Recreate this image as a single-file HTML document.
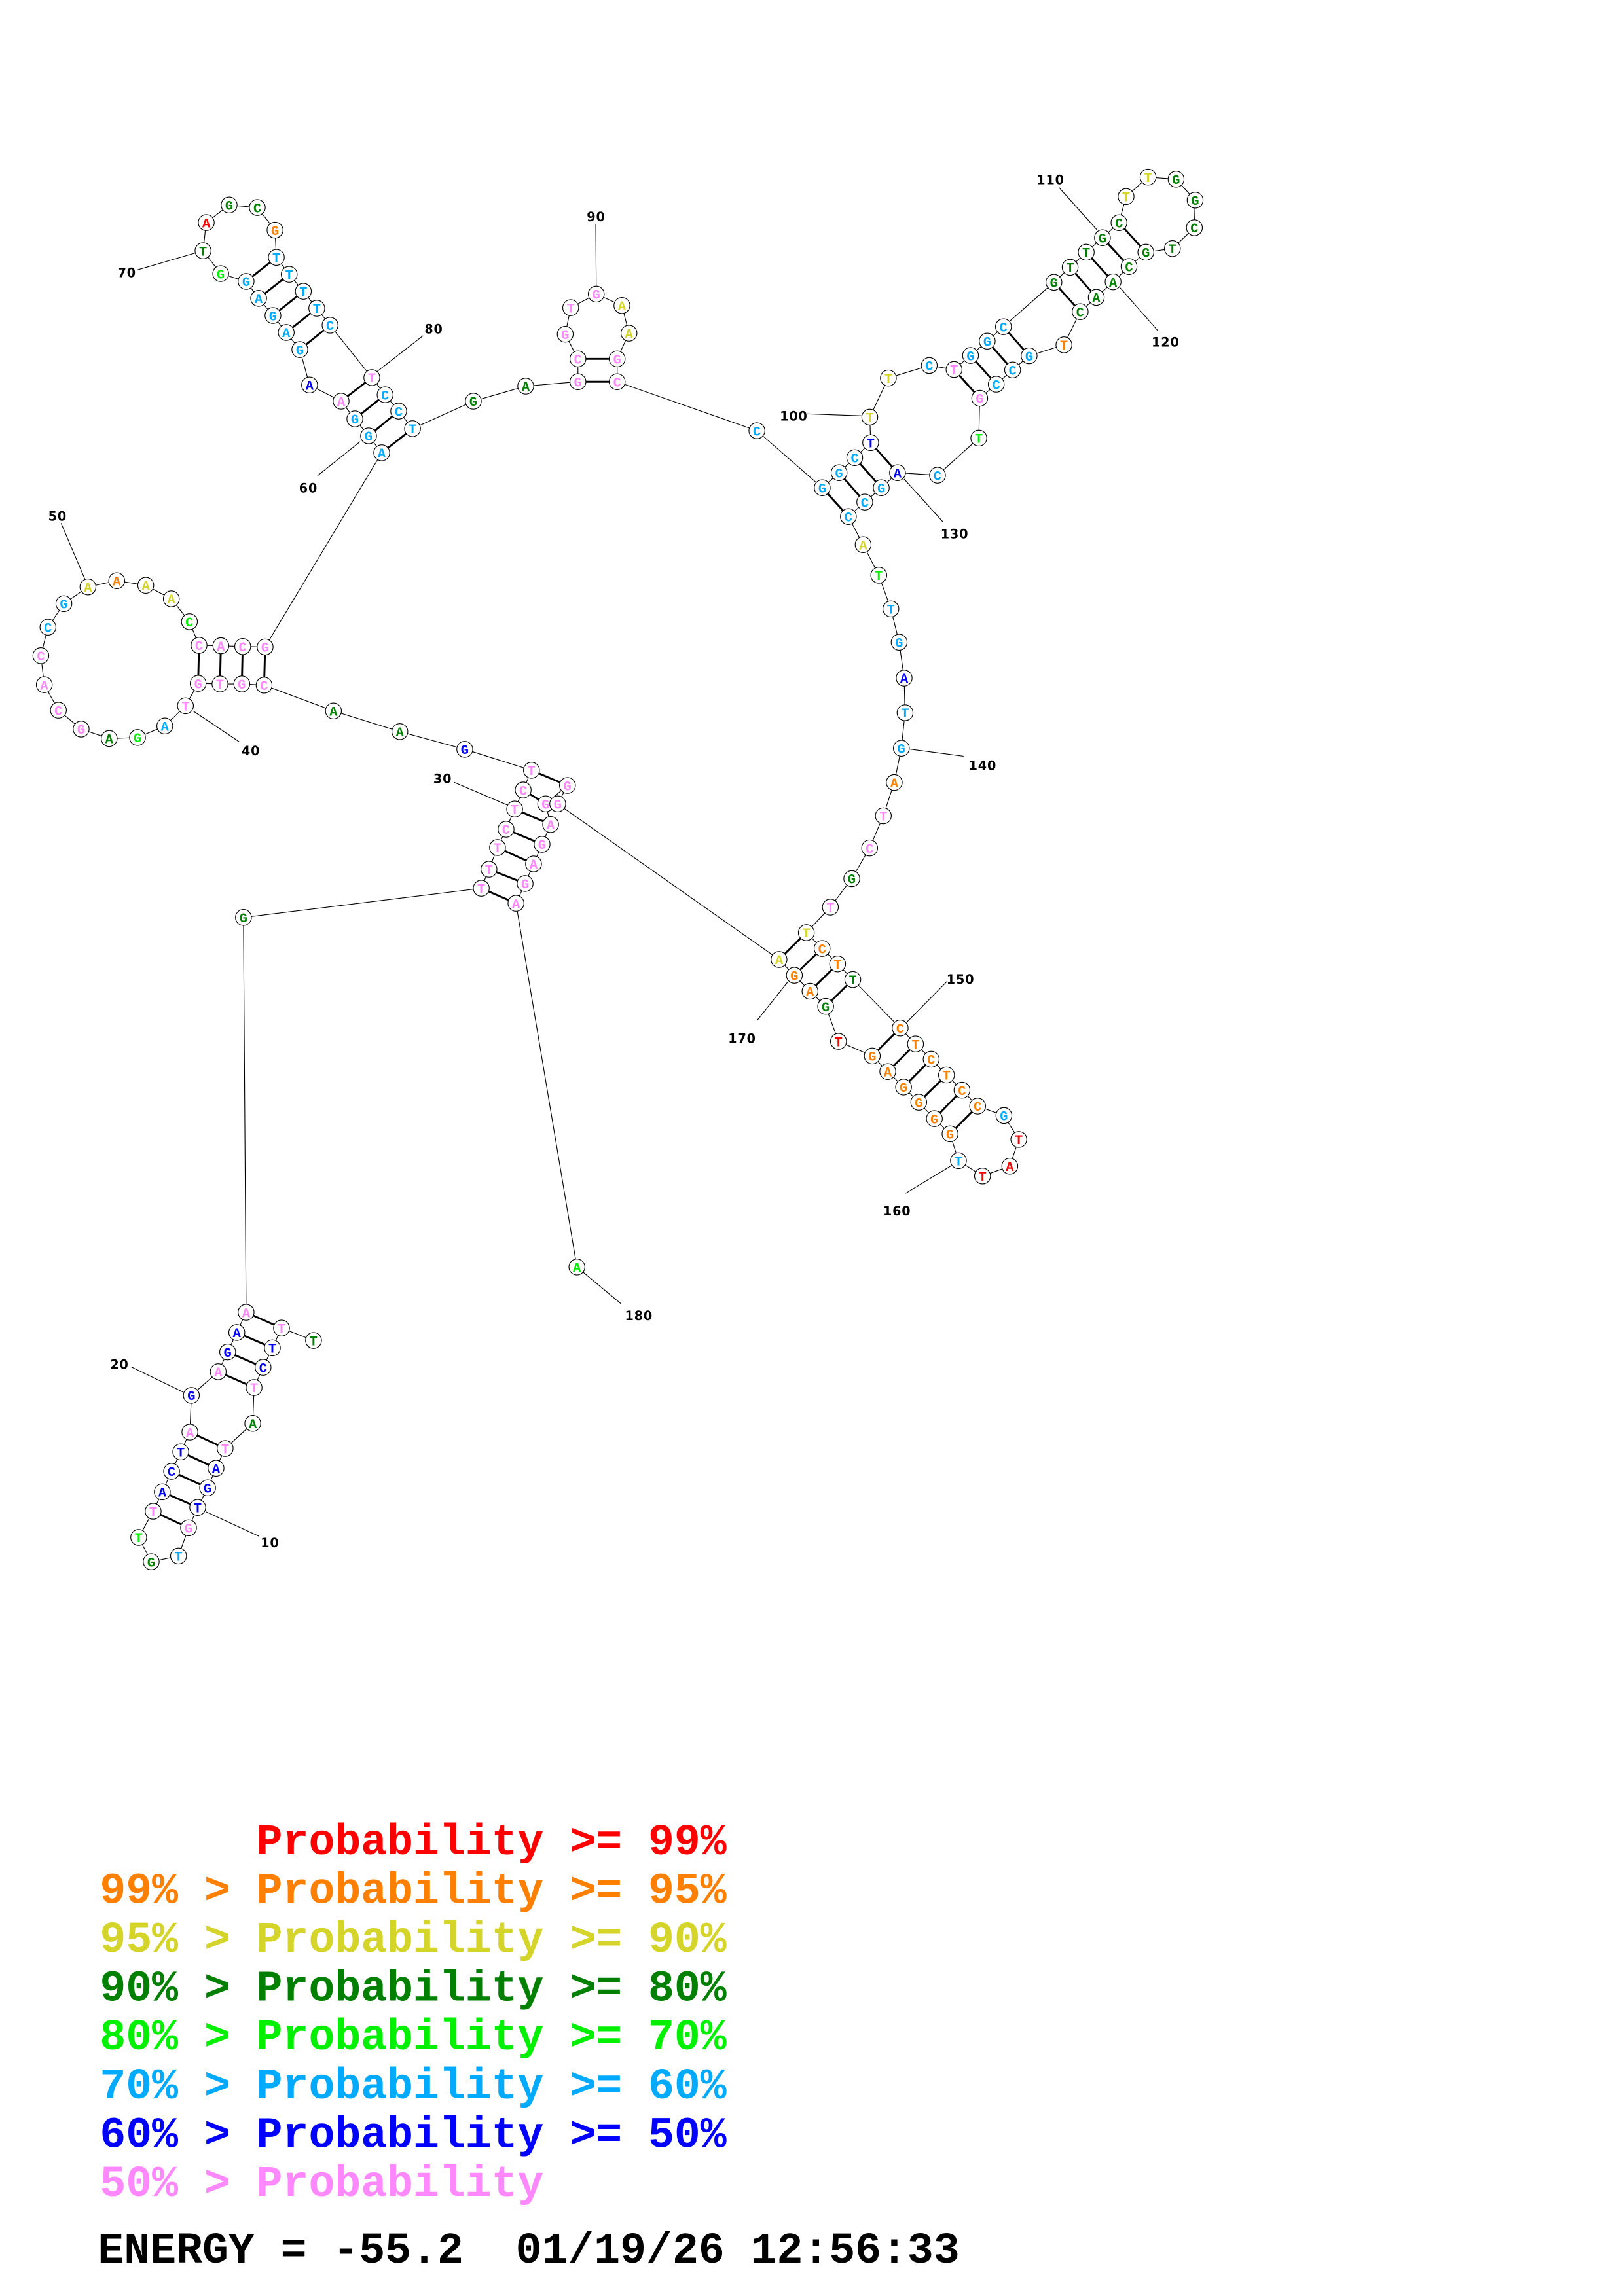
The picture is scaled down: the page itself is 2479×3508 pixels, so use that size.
<!DOCTYPE html>
<html><head><meta charset="utf-8">
<style>
html,body{margin:0;padding:0;background:#fff;}
svg{display:block;}
.bb{fill:none;stroke:#000;stroke-width:0.5;}
.bp{stroke:#000;stroke-width:1.3;}
.ln{stroke:#000;stroke-width:0.5;}
circle{fill:#fff;stroke:#000;stroke-width:0.5;}
text.n{font-family:"Liberation Mono",monospace;font-weight:bold;font-size:9px;text-anchor:middle;}
text.l{font-family:"DejaVu Sans","Liberation Sans",sans-serif;font-weight:bold;font-size:8.5px;text-anchor:middle;fill:#000;letter-spacing:0.4px;}
text.g{font-family:"Liberation Mono",monospace;font-weight:bold;font-size:29.5px;white-space:pre;}
.rd{fill:#ff0000}.or{fill:#ff8000}.ye{fill:#d4d42a}.dg{fill:#008000}.gr{fill:#00f000}.lb{fill:#00aaff}.bl{fill:#0000ff}.pk{fill:#ff88ff}
</style></head><body>
<svg width="2479" height="3508" viewBox="0 0 1100 1556.6" xmlns="http://www.w3.org/2000/svg" xml:space="preserve">
<rect width="1100" height="1556.6" fill="#fff"/>
<line class="ln" x1="139.8" y1="1025" x2="175.3" y2="1041.4"/>
<line class="ln" x1="88.7" y1="926.6" x2="124.2" y2="943.8"/>
<line class="ln" x1="307.6" y1="530.3" x2="343.9" y2="545.8"/>
<line class="ln" x1="130.9" y1="482" x2="162" y2="502.8"/>
<line class="ln" x1="41.4" y1="354.7" x2="57.4" y2="392.3"/>
<line class="ln" x1="244" y1="299.5" x2="215.2" y2="322.5"/>
<line class="ln" x1="137.6" y1="170" x2="93" y2="183"/>
<line class="ln" x1="286.7" y1="227.6" x2="252.5" y2="254.3"/>
<line class="ln" x1="403.8" y1="152" x2="404.1" y2="193.8"/>
<line class="ln" x1="547" y1="280.6" x2="584.3" y2="281.9"/>
<line class="ln" x1="717.8" y1="127.2" x2="743.7" y2="156.1"/>
<line class="ln" x1="759.2" y1="195.2" x2="785" y2="224.5"/>
<line class="ln" x1="612.7" y1="324.7" x2="638.9" y2="353.6"/>
<line class="ln" x1="616.8" y1="507.9" x2="653" y2="512.7"/>
<line class="ln" x1="642" y1="665.2" x2="614.6" y2="693"/>
<line class="ln" x1="644.2" y1="790.6" x2="613.8" y2="809"/>
<line class="ln" x1="534" y1="665.6" x2="513" y2="692"/>
<line class="ln" x1="391" y1="859" x2="421" y2="884"/>
<polyline class="bb" points="212.5,908.8 190.8,900.4 184.6,913.8 178.3,927 172.2,940.7 171.3,965 152.6,982 146.4,995.4 140.7,1008.7 134,1022 127.8,1035.8 121,1054.9 102.5,1058.8 94,1042.3 103.8,1024.6 110,1011.4 116.3,997.5 122.5,984.3 128.7,970.9 129.7,946 147.9,930 154.3,916.6 160.5,903.4 166.8,889.7 165,622 326.2,602.2 331.4,589.3 337.2,574.6 343,562.2 348.8,548.5 354.6,535.6 360.2,522.2 315,508 271,496 226,482 179,464.5 163.9,463.7 149.1,463.7 134.3,463.3 125.7,478.5 111.7,492.2 93.2,500 74,500.7 55,494.3 39.6,481.5 30,464.2 27.7,444.5 32.5,425.2 43.3,409.3 59.6,397.9 79.1,393.7 98.8,396.8 116.1,406 128.4,421.5 134.9,437.5 149.7,437.8 164.5,438.3 179.7,438.6 258.7,307 249.8,295.5 240.5,284 231.2,272 209.8,261 203.2,237 194,225.4 185,213.9 175.3,202.3 166.8,190.8 149.6,185.5 137.6,170 139.8,150.9 155.3,139 174.4,140.7 186.4,156 187.3,174.5 196,186 205.6,197.5 214.7,209 223.7,220.5 252,256 261,267.6 270.2,278.7 279.6,290.6 320.8,272 356.3,261.8 391.7,258.8 391.7,243.3 383.1,226.6 386.8,208.6 404.1,199.4 421.5,207.1 426.3,225.9 418.3,243.3 418.3,258.8 513,292 557.3,330.7 568.7,320.5 579.3,310.3 590.1,300.1 589.5,282.8 602.1,256.3 629.8,247.8 646.6,250.5 657.8,241 669.1,231.3 680.1,221.5 714.3,191.4 725.3,181.2 736.2,171 747.2,161.2 758.4,151 763.2,133.3 778.1,120.1 797.1,121.5 810,135.7 809.5,154.4 794.6,168.5 776.6,171 765.2,180.7 754.4,191.1 743,201.6 732.1,211.3 721.1,233.8 697.5,241.2 686.3,250.8 675.2,260.5 664,270 663.4,297 635.4,322.2 608.3,320.5 597.3,330.7 586.1,340.4 575,350.2 585,369.3 595.6,390 603.8,412.8 609.4,435.4 612.8,459.7 613.4,483.2 610.9,507.3 606.1,530.5 598.7,553.1 589.4,574.9 577.3,595.7 562.8,615 546.5,632.3 557.2,643 567.7,653.5 578,664.1 610.1,697 620.5,707.8 631.1,718.1 641.5,728.8 652,739.1 662.6,749.9 680.4,756.3 690.5,772.5 684.4,790.6 665.9,797.3 649.6,786.9 643.9,768.7 633.3,758.4 622.7,747.3 612.4,737 601.7,726.5 591.2,715.9 568.3,706 559.6,682.3 549,672 538.4,661.2 528,650.5 378,545 384.6,532.5 369.8,545 373.2,559 367.4,572.4 361.6,585.7 355.9,599 349.7,612.4 391,859"/>
<g class="bp">
<line x1="190.8" y1="900.4" x2="166.8" y2="889.7"/>
<line x1="184.6" y1="913.8" x2="160.5" y2="903.4"/>
<line x1="178.3" y1="927" x2="154.3" y2="916.6"/>
<line x1="172.2" y1="940.7" x2="147.9" y2="930"/>
<line x1="152.6" y1="982" x2="128.7" y2="970.9"/>
<line x1="146.4" y1="995.4" x2="122.5" y2="984.3"/>
<line x1="140.7" y1="1008.7" x2="116.3" y2="997.5"/>
<line x1="134" y1="1022" x2="110" y2="1011.4"/>
<line x1="127.8" y1="1035.8" x2="103.8" y2="1024.6"/>
<line x1="326.2" y1="602.2" x2="349.7" y2="612.4"/>
<line x1="331.4" y1="589.3" x2="355.9" y2="599"/>
<line x1="337.2" y1="574.6" x2="361.6" y2="585.7"/>
<line x1="343" y1="562.2" x2="367.4" y2="572.4"/>
<line x1="348.8" y1="548.5" x2="373.2" y2="559"/>
<line x1="354.6" y1="535.6" x2="369.8" y2="545"/>
<line x1="360.2" y1="522.2" x2="384.6" y2="532.5"/>
<line x1="179" y1="464.5" x2="179.7" y2="438.6"/>
<line x1="163.9" y1="463.7" x2="164.5" y2="438.3"/>
<line x1="149.1" y1="463.7" x2="149.7" y2="437.8"/>
<line x1="134.3" y1="463.3" x2="134.9" y2="437.5"/>
<line x1="258.7" y1="307" x2="279.6" y2="290.6"/>
<line x1="249.8" y1="295.5" x2="270.2" y2="278.7"/>
<line x1="240.5" y1="284" x2="261" y2="267.6"/>
<line x1="231.2" y1="272" x2="252" y2="256"/>
<line x1="203.2" y1="237" x2="223.7" y2="220.5"/>
<line x1="194" y1="225.4" x2="214.7" y2="209"/>
<line x1="185" y1="213.9" x2="205.6" y2="197.5"/>
<line x1="175.3" y1="202.3" x2="196" y2="186"/>
<line x1="166.8" y1="190.8" x2="187.3" y2="174.5"/>
<line x1="391.7" y1="258.8" x2="418.3" y2="258.8"/>
<line x1="391.7" y1="243.3" x2="418.3" y2="243.3"/>
<line x1="557.3" y1="330.7" x2="575" y2="350.2"/>
<line x1="568.7" y1="320.5" x2="586.1" y2="340.4"/>
<line x1="579.3" y1="310.3" x2="597.3" y2="330.7"/>
<line x1="590.1" y1="300.1" x2="608.3" y2="320.5"/>
<line x1="646.6" y1="250.5" x2="664" y2="270"/>
<line x1="657.8" y1="241" x2="675.2" y2="260.5"/>
<line x1="669.1" y1="231.3" x2="686.3" y2="250.8"/>
<line x1="680.1" y1="221.5" x2="697.5" y2="241.2"/>
<line x1="714.3" y1="191.4" x2="732.1" y2="211.3"/>
<line x1="725.3" y1="181.2" x2="743" y2="201.6"/>
<line x1="736.2" y1="171" x2="754.4" y2="191.1"/>
<line x1="747.2" y1="161.2" x2="765.2" y2="180.7"/>
<line x1="758.4" y1="151" x2="776.6" y2="171"/>
<line x1="546.5" y1="632.3" x2="528" y2="650.5"/>
<line x1="557.2" y1="643" x2="538.4" y2="661.2"/>
<line x1="567.7" y1="653.5" x2="549" y2="672"/>
<line x1="578" y1="664.1" x2="559.6" y2="682.3"/>
<line x1="610.1" y1="697" x2="591.2" y2="715.9"/>
<line x1="620.5" y1="707.8" x2="601.7" y2="726.5"/>
<line x1="631.1" y1="718.1" x2="612.4" y2="737"/>
<line x1="641.5" y1="728.8" x2="622.7" y2="747.3"/>
<line x1="652" y1="739.1" x2="633.3" y2="758.4"/>
<line x1="662.6" y1="749.9" x2="643.9" y2="768.7"/>
</g>
<g>
<circle cx="212.5" cy="908.8" r="5.4"/><text class="n dg" x="212.5" y="912">T</text>
<circle cx="190.8" cy="900.4" r="5.4"/><text class="n pk" x="190.8" y="903.6">T</text>
<circle cx="184.6" cy="913.8" r="5.4"/><text class="n bl" x="184.6" y="917">T</text>
<circle cx="178.3" cy="927" r="5.4"/><text class="n bl" x="178.3" y="930.2">C</text>
<circle cx="172.2" cy="940.7" r="5.4"/><text class="n pk" x="172.2" y="943.9">T</text>
<circle cx="171.3" cy="965" r="5.4"/><text class="n dg" x="171.3" y="968.2">A</text>
<circle cx="152.6" cy="982" r="5.4"/><text class="n pk" x="152.6" y="985.2">T</text>
<circle cx="146.4" cy="995.4" r="5.4"/><text class="n bl" x="146.4" y="998.6">A</text>
<circle cx="140.7" cy="1008.7" r="5.4"/><text class="n bl" x="140.7" y="1011.9">G</text>
<circle cx="134" cy="1022" r="5.4"/><text class="n bl" x="134" y="1025.2">T</text>
<circle cx="127.8" cy="1035.8" r="5.4"/><text class="n pk" x="127.8" y="1039">G</text>
<circle cx="121" cy="1054.9" r="5.4"/><text class="n lb" x="121" y="1058.1">T</text>
<circle cx="102.5" cy="1058.8" r="5.4"/><text class="n dg" x="102.5" y="1062">G</text>
<circle cx="94" cy="1042.3" r="5.4"/><text class="n gr" x="94" y="1045.5">T</text>
<circle cx="103.8" cy="1024.6" r="5.4"/><text class="n pk" x="103.8" y="1027.8">T</text>
<circle cx="110" cy="1011.4" r="5.4"/><text class="n bl" x="110" y="1014.6">A</text>
<circle cx="116.3" cy="997.5" r="5.4"/><text class="n bl" x="116.3" y="1000.7">C</text>
<circle cx="122.5" cy="984.3" r="5.4"/><text class="n bl" x="122.5" y="987.5">T</text>
<circle cx="128.7" cy="970.9" r="5.4"/><text class="n pk" x="128.7" y="974.1">A</text>
<circle cx="129.7" cy="946" r="5.4"/><text class="n bl" x="129.7" y="949.2">G</text>
<circle cx="147.9" cy="930" r="5.4"/><text class="n pk" x="147.9" y="933.2">A</text>
<circle cx="154.3" cy="916.6" r="5.4"/><text class="n bl" x="154.3" y="919.8">G</text>
<circle cx="160.5" cy="903.4" r="5.4"/><text class="n bl" x="160.5" y="906.6">A</text>
<circle cx="166.8" cy="889.7" r="5.4"/><text class="n pk" x="166.8" y="892.9">A</text>
<circle cx="165" cy="622" r="5.4"/><text class="n dg" x="165" y="625.2">G</text>
<circle cx="326.2" cy="602.2" r="5.4"/><text class="n pk" x="326.2" y="605.4">T</text>
<circle cx="331.4" cy="589.3" r="5.4"/><text class="n pk" x="331.4" y="592.5">T</text>
<circle cx="337.2" cy="574.6" r="5.4"/><text class="n pk" x="337.2" y="577.8">T</text>
<circle cx="343" cy="562.2" r="5.4"/><text class="n pk" x="343" y="565.4">C</text>
<circle cx="348.8" cy="548.5" r="5.4"/><text class="n pk" x="348.8" y="551.7">T</text>
<circle cx="354.6" cy="535.6" r="5.4"/><text class="n pk" x="354.6" y="538.8">C</text>
<circle cx="360.2" cy="522.2" r="5.4"/><text class="n pk" x="360.2" y="525.4">T</text>
<circle cx="315" cy="508" r="5.4"/><text class="n bl" x="315" y="511.2">G</text>
<circle cx="271" cy="496" r="5.4"/><text class="n dg" x="271" y="499.2">A</text>
<circle cx="226" cy="482" r="5.4"/><text class="n dg" x="226" y="485.2">A</text>
<circle cx="179" cy="464.5" r="5.4"/><text class="n pk" x="179" y="467.7">C</text>
<circle cx="163.9" cy="463.7" r="5.4"/><text class="n pk" x="163.9" y="466.9">G</text>
<circle cx="149.1" cy="463.7" r="5.4"/><text class="n pk" x="149.1" y="466.9">T</text>
<circle cx="134.3" cy="463.3" r="5.4"/><text class="n pk" x="134.3" y="466.5">G</text>
<circle cx="125.7" cy="478.5" r="5.4"/><text class="n pk" x="125.7" y="481.7">T</text>
<circle cx="111.7" cy="492.2" r="5.4"/><text class="n lb" x="111.7" y="495.4">A</text>
<circle cx="93.2" cy="500" r="5.4"/><text class="n gr" x="93.2" y="503.2">G</text>
<circle cx="74" cy="500.7" r="5.4"/><text class="n dg" x="74" y="503.9">A</text>
<circle cx="55" cy="494.3" r="5.4"/><text class="n pk" x="55" y="497.5">G</text>
<circle cx="39.6" cy="481.5" r="5.4"/><text class="n pk" x="39.6" y="484.7">C</text>
<circle cx="30" cy="464.2" r="5.4"/><text class="n pk" x="30" y="467.4">A</text>
<circle cx="27.7" cy="444.5" r="5.4"/><text class="n pk" x="27.7" y="447.7">C</text>
<circle cx="32.5" cy="425.2" r="5.4"/><text class="n lb" x="32.5" y="428.4">C</text>
<circle cx="43.3" cy="409.3" r="5.4"/><text class="n lb" x="43.3" y="412.5">G</text>
<circle cx="59.6" cy="397.9" r="5.4"/><text class="n ye" x="59.6" y="401.1">A</text>
<circle cx="79.1" cy="393.7" r="5.4"/><text class="n or" x="79.1" y="396.9">A</text>
<circle cx="98.8" cy="396.8" r="5.4"/><text class="n ye" x="98.8" y="400">A</text>
<circle cx="116.1" cy="406" r="5.4"/><text class="n ye" x="116.1" y="409.2">A</text>
<circle cx="128.4" cy="421.5" r="5.4"/><text class="n gr" x="128.4" y="424.7">C</text>
<circle cx="134.9" cy="437.5" r="5.4"/><text class="n pk" x="134.9" y="440.7">C</text>
<circle cx="149.7" cy="437.8" r="5.4"/><text class="n pk" x="149.7" y="441">A</text>
<circle cx="164.5" cy="438.3" r="5.4"/><text class="n pk" x="164.5" y="441.5">C</text>
<circle cx="179.7" cy="438.6" r="5.4"/><text class="n pk" x="179.7" y="441.8">G</text>
<circle cx="258.7" cy="307" r="5.4"/><text class="n lb" x="258.7" y="310.2">A</text>
<circle cx="249.8" cy="295.5" r="5.4"/><text class="n lb" x="249.8" y="298.7">G</text>
<circle cx="240.5" cy="284" r="5.4"/><text class="n lb" x="240.5" y="287.2">G</text>
<circle cx="231.2" cy="272" r="5.4"/><text class="n pk" x="231.2" y="275.2">A</text>
<circle cx="209.8" cy="261" r="5.4"/><text class="n bl" x="209.8" y="264.2">A</text>
<circle cx="203.2" cy="237" r="5.4"/><text class="n lb" x="203.2" y="240.2">G</text>
<circle cx="194" cy="225.4" r="5.4"/><text class="n lb" x="194" y="228.6">A</text>
<circle cx="185" cy="213.9" r="5.4"/><text class="n lb" x="185" y="217.1">G</text>
<circle cx="175.3" cy="202.3" r="5.4"/><text class="n lb" x="175.3" y="205.5">A</text>
<circle cx="166.8" cy="190.8" r="5.4"/><text class="n lb" x="166.8" y="194">G</text>
<circle cx="149.6" cy="185.5" r="5.4"/><text class="n gr" x="149.6" y="188.7">G</text>
<circle cx="137.6" cy="170" r="5.4"/><text class="n dg" x="137.6" y="173.2">T</text>
<circle cx="139.8" cy="150.9" r="5.4"/><text class="n rd" x="139.8" y="154.1">A</text>
<circle cx="155.3" cy="139" r="5.4"/><text class="n dg" x="155.3" y="142.2">G</text>
<circle cx="174.4" cy="140.7" r="5.4"/><text class="n dg" x="174.4" y="143.9">C</text>
<circle cx="186.4" cy="156" r="5.4"/><text class="n or" x="186.4" y="159.2">G</text>
<circle cx="187.3" cy="174.5" r="5.4"/><text class="n lb" x="187.3" y="177.7">T</text>
<circle cx="196" cy="186" r="5.4"/><text class="n lb" x="196" y="189.2">T</text>
<circle cx="205.6" cy="197.5" r="5.4"/><text class="n lb" x="205.6" y="200.7">T</text>
<circle cx="214.7" cy="209" r="5.4"/><text class="n lb" x="214.7" y="212.2">T</text>
<circle cx="223.7" cy="220.5" r="5.4"/><text class="n lb" x="223.7" y="223.7">C</text>
<circle cx="252" cy="256" r="5.4"/><text class="n pk" x="252" y="259.2">T</text>
<circle cx="261" cy="267.6" r="5.4"/><text class="n lb" x="261" y="270.8">C</text>
<circle cx="270.2" cy="278.7" r="5.4"/><text class="n lb" x="270.2" y="281.9">C</text>
<circle cx="279.6" cy="290.6" r="5.4"/><text class="n lb" x="279.6" y="293.8">T</text>
<circle cx="320.8" cy="272" r="5.4"/><text class="n dg" x="320.8" y="275.2">G</text>
<circle cx="356.3" cy="261.8" r="5.4"/><text class="n dg" x="356.3" y="265">A</text>
<circle cx="391.7" cy="258.8" r="5.4"/><text class="n pk" x="391.7" y="262">G</text>
<circle cx="391.7" cy="243.3" r="5.4"/><text class="n pk" x="391.7" y="246.5">C</text>
<circle cx="383.1" cy="226.6" r="5.4"/><text class="n pk" x="383.1" y="229.8">G</text>
<circle cx="386.8" cy="208.6" r="5.4"/><text class="n pk" x="386.8" y="211.8">T</text>
<circle cx="404.1" cy="199.4" r="5.4"/><text class="n pk" x="404.1" y="202.6">G</text>
<circle cx="421.5" cy="207.1" r="5.4"/><text class="n ye" x="421.5" y="210.3">A</text>
<circle cx="426.3" cy="225.9" r="5.4"/><text class="n ye" x="426.3" y="229.1">A</text>
<circle cx="418.3" cy="243.3" r="5.4"/><text class="n pk" x="418.3" y="246.5">G</text>
<circle cx="418.3" cy="258.8" r="5.4"/><text class="n pk" x="418.3" y="262">C</text>
<circle cx="513" cy="292" r="5.4"/><text class="n lb" x="513" y="295.2">C</text>
<circle cx="557.3" cy="330.7" r="5.4"/><text class="n lb" x="557.3" y="333.9">G</text>
<circle cx="568.7" cy="320.5" r="5.4"/><text class="n lb" x="568.7" y="323.7">G</text>
<circle cx="579.3" cy="310.3" r="5.4"/><text class="n lb" x="579.3" y="313.5">C</text>
<circle cx="590.1" cy="300.1" r="5.4"/><text class="n bl" x="590.1" y="303.3">T</text>
<circle cx="589.5" cy="282.8" r="5.4"/><text class="n ye" x="589.5" y="286">T</text>
<circle cx="602.1" cy="256.3" r="5.4"/><text class="n ye" x="602.1" y="259.5">T</text>
<circle cx="629.8" cy="247.8" r="5.4"/><text class="n lb" x="629.8" y="251">C</text>
<circle cx="646.6" cy="250.5" r="5.4"/><text class="n pk" x="646.6" y="253.7">T</text>
<circle cx="657.8" cy="241" r="5.4"/><text class="n lb" x="657.8" y="244.2">G</text>
<circle cx="669.1" cy="231.3" r="5.4"/><text class="n lb" x="669.1" y="234.5">G</text>
<circle cx="680.1" cy="221.5" r="5.4"/><text class="n lb" x="680.1" y="224.7">C</text>
<circle cx="714.3" cy="191.4" r="5.4"/><text class="n dg" x="714.3" y="194.6">G</text>
<circle cx="725.3" cy="181.2" r="5.4"/><text class="n dg" x="725.3" y="184.4">T</text>
<circle cx="736.2" cy="171" r="5.4"/><text class="n dg" x="736.2" y="174.2">T</text>
<circle cx="747.2" cy="161.2" r="5.4"/><text class="n dg" x="747.2" y="164.4">G</text>
<circle cx="758.4" cy="151" r="5.4"/><text class="n dg" x="758.4" y="154.2">C</text>
<circle cx="763.2" cy="133.3" r="5.4"/><text class="n ye" x="763.2" y="136.5">T</text>
<circle cx="778.1" cy="120.1" r="5.4"/><text class="n ye" x="778.1" y="123.3">T</text>
<circle cx="797.1" cy="121.5" r="5.4"/><text class="n dg" x="797.1" y="124.7">G</text>
<circle cx="810" cy="135.7" r="5.4"/><text class="n dg" x="810" y="138.9">G</text>
<circle cx="809.5" cy="154.4" r="5.4"/><text class="n dg" x="809.5" y="157.6">C</text>
<circle cx="794.6" cy="168.5" r="5.4"/><text class="n dg" x="794.6" y="171.7">T</text>
<circle cx="776.6" cy="171" r="5.4"/><text class="n dg" x="776.6" y="174.2">G</text>
<circle cx="765.2" cy="180.7" r="5.4"/><text class="n dg" x="765.2" y="183.9">C</text>
<circle cx="754.4" cy="191.1" r="5.4"/><text class="n dg" x="754.4" y="194.3">A</text>
<circle cx="743" cy="201.6" r="5.4"/><text class="n dg" x="743" y="204.8">A</text>
<circle cx="732.1" cy="211.3" r="5.4"/><text class="n dg" x="732.1" y="214.5">C</text>
<circle cx="721.1" cy="233.8" r="5.4"/><text class="n or" x="721.1" y="237">T</text>
<circle cx="697.5" cy="241.2" r="5.4"/><text class="n lb" x="697.5" y="244.4">G</text>
<circle cx="686.3" cy="250.8" r="5.4"/><text class="n lb" x="686.3" y="254">C</text>
<circle cx="675.2" cy="260.5" r="5.4"/><text class="n lb" x="675.2" y="263.7">C</text>
<circle cx="664" cy="270" r="5.4"/><text class="n pk" x="664" y="273.2">G</text>
<circle cx="663.4" cy="297" r="5.4"/><text class="n gr" x="663.4" y="300.2">T</text>
<circle cx="635.4" cy="322.2" r="5.4"/><text class="n lb" x="635.4" y="325.4">C</text>
<circle cx="608.3" cy="320.5" r="5.4"/><text class="n bl" x="608.3" y="323.7">A</text>
<circle cx="597.3" cy="330.7" r="5.4"/><text class="n lb" x="597.3" y="333.9">G</text>
<circle cx="586.1" cy="340.4" r="5.4"/><text class="n lb" x="586.1" y="343.6">C</text>
<circle cx="575" cy="350.2" r="5.4"/><text class="n lb" x="575" y="353.4">C</text>
<circle cx="585" cy="369.3" r="5.4"/><text class="n ye" x="585" y="372.5">A</text>
<circle cx="595.6" cy="390" r="5.4"/><text class="n gr" x="595.6" y="393.2">T</text>
<circle cx="603.8" cy="412.8" r="5.4"/><text class="n lb" x="603.8" y="416">T</text>
<circle cx="609.4" cy="435.4" r="5.4"/><text class="n lb" x="609.4" y="438.6">G</text>
<circle cx="612.8" cy="459.7" r="5.4"/><text class="n bl" x="612.8" y="462.9">A</text>
<circle cx="613.4" cy="483.2" r="5.4"/><text class="n lb" x="613.4" y="486.4">T</text>
<circle cx="610.9" cy="507.3" r="5.4"/><text class="n lb" x="610.9" y="510.5">G</text>
<circle cx="606.1" cy="530.5" r="5.4"/><text class="n or" x="606.1" y="533.7">A</text>
<circle cx="598.7" cy="553.1" r="5.4"/><text class="n pk" x="598.7" y="556.3">T</text>
<circle cx="589.4" cy="574.9" r="5.4"/><text class="n pk" x="589.4" y="578.1">C</text>
<circle cx="577.3" cy="595.7" r="5.4"/><text class="n dg" x="577.3" y="598.9">G</text>
<circle cx="562.8" cy="615" r="5.4"/><text class="n pk" x="562.8" y="618.2">T</text>
<circle cx="546.5" cy="632.3" r="5.4"/><text class="n ye" x="546.5" y="635.5">T</text>
<circle cx="557.2" cy="643" r="5.4"/><text class="n or" x="557.2" y="646.2">C</text>
<circle cx="567.7" cy="653.5" r="5.4"/><text class="n or" x="567.7" y="656.7">T</text>
<circle cx="578" cy="664.1" r="5.4"/><text class="n dg" x="578" y="667.3">T</text>
<circle cx="610.1" cy="697" r="5.4"/><text class="n or" x="610.1" y="700.2">C</text>
<circle cx="620.5" cy="707.8" r="5.4"/><text class="n or" x="620.5" y="711">T</text>
<circle cx="631.1" cy="718.1" r="5.4"/><text class="n or" x="631.1" y="721.3">C</text>
<circle cx="641.5" cy="728.8" r="5.4"/><text class="n or" x="641.5" y="732">T</text>
<circle cx="652" cy="739.1" r="5.4"/><text class="n or" x="652" y="742.3">C</text>
<circle cx="662.6" cy="749.9" r="5.4"/><text class="n or" x="662.6" y="753.1">C</text>
<circle cx="680.4" cy="756.3" r="5.4"/><text class="n lb" x="680.4" y="759.5">G</text>
<circle cx="690.5" cy="772.5" r="5.4"/><text class="n rd" x="690.5" y="775.7">T</text>
<circle cx="684.4" cy="790.6" r="5.4"/><text class="n rd" x="684.4" y="793.8">A</text>
<circle cx="665.9" cy="797.3" r="5.4"/><text class="n rd" x="665.9" y="800.5">T</text>
<circle cx="649.6" cy="786.9" r="5.4"/><text class="n lb" x="649.6" y="790.1">T</text>
<circle cx="643.9" cy="768.7" r="5.4"/><text class="n or" x="643.9" y="771.9">G</text>
<circle cx="633.3" cy="758.4" r="5.4"/><text class="n or" x="633.3" y="761.6">G</text>
<circle cx="622.7" cy="747.3" r="5.4"/><text class="n or" x="622.7" y="750.5">G</text>
<circle cx="612.4" cy="737" r="5.4"/><text class="n or" x="612.4" y="740.2">G</text>
<circle cx="601.7" cy="726.5" r="5.4"/><text class="n or" x="601.7" y="729.7">A</text>
<circle cx="591.2" cy="715.9" r="5.4"/><text class="n or" x="591.2" y="719.1">G</text>
<circle cx="568.3" cy="706" r="5.4"/><text class="n rd" x="568.3" y="709.2">T</text>
<circle cx="559.6" cy="682.3" r="5.4"/><text class="n dg" x="559.6" y="685.5">G</text>
<circle cx="549" cy="672" r="5.4"/><text class="n or" x="549" y="675.2">A</text>
<circle cx="538.4" cy="661.2" r="5.4"/><text class="n or" x="538.4" y="664.4">G</text>
<circle cx="528" cy="650.5" r="5.4"/><text class="n ye" x="528" y="653.7">A</text>
<circle cx="384.6" cy="532.5" r="5.4"/><text class="n pk" x="384.6" y="535.7">G</text>
<circle cx="369.8" cy="545" r="5.4"/><text class="n pk" x="369.8" y="548.2">G</text>
<circle cx="378" cy="545" r="5.4"/><text class="n pk" x="378" y="548.2">G</text>
<circle cx="373.2" cy="559" r="5.4"/><text class="n pk" x="373.2" y="562.2">A</text>
<circle cx="367.4" cy="572.4" r="5.4"/><text class="n pk" x="367.4" y="575.6">G</text>
<circle cx="361.6" cy="585.7" r="5.4"/><text class="n pk" x="361.6" y="588.9">A</text>
<circle cx="355.9" cy="599" r="5.4"/><text class="n pk" x="355.9" y="602.2">G</text>
<circle cx="349.7" cy="612.4" r="5.4"/><text class="n pk" x="349.7" y="615.6">A</text>
<circle cx="391" cy="859" r="5.4"/><text class="n gr" x="391" y="862.2">A</text>
</g>
<text class="l" x="183" y="1049">10</text>
<text class="l" x="81" y="928">20</text>
<text class="l" x="300" y="531">30</text>
<text class="l" x="170" y="512">40</text>
<text class="l" x="39" y="353">50</text>
<text class="l" x="209" y="334">60</text>
<text class="l" x="86" y="188">70</text>
<text class="l" x="294" y="226">80</text>
<text class="l" x="404" y="150">90</text>
<text class="l" x="538" y="285">100</text>
<text class="l" x="712" y="125">110</text>
<text class="l" x="790" y="235">120</text>
<text class="l" x="647" y="365">130</text>
<text class="l" x="666" y="522">140</text>
<text class="l" x="651" y="667">150</text>
<text class="l" x="608" y="824">160</text>
<text class="l" x="503" y="707">170</text>
<text class="l" x="433" y="895">180</text>
<text class="g rd" x="173.8" y="1257">Probability &gt;= 99%</text>
<text class="g or" x="67.6" y="1290.1">99% &gt; Probability &gt;= 95%</text>
<text class="g ye" x="67.6" y="1323.2">95% &gt; Probability &gt;= 90%</text>
<text class="g dg" x="67.6" y="1356.3">90% &gt; Probability &gt;= 80%</text>
<text class="g gr" x="67.6" y="1389.4">80% &gt; Probability &gt;= 70%</text>
<text class="g lb" x="67.6" y="1422.5">70% &gt; Probability &gt;= 60%</text>
<text class="g bl" x="67.6" y="1455.6">60% &gt; Probability &gt;= 50%</text>
<text class="g pk" x="67.6" y="1488.7">50% &gt; Probability</text>
<text class="g" x="66.3" y="1534" fill="#000">ENERGY = -55.2  01/19/26 12:56:33</text>
</svg>
</body></html>
